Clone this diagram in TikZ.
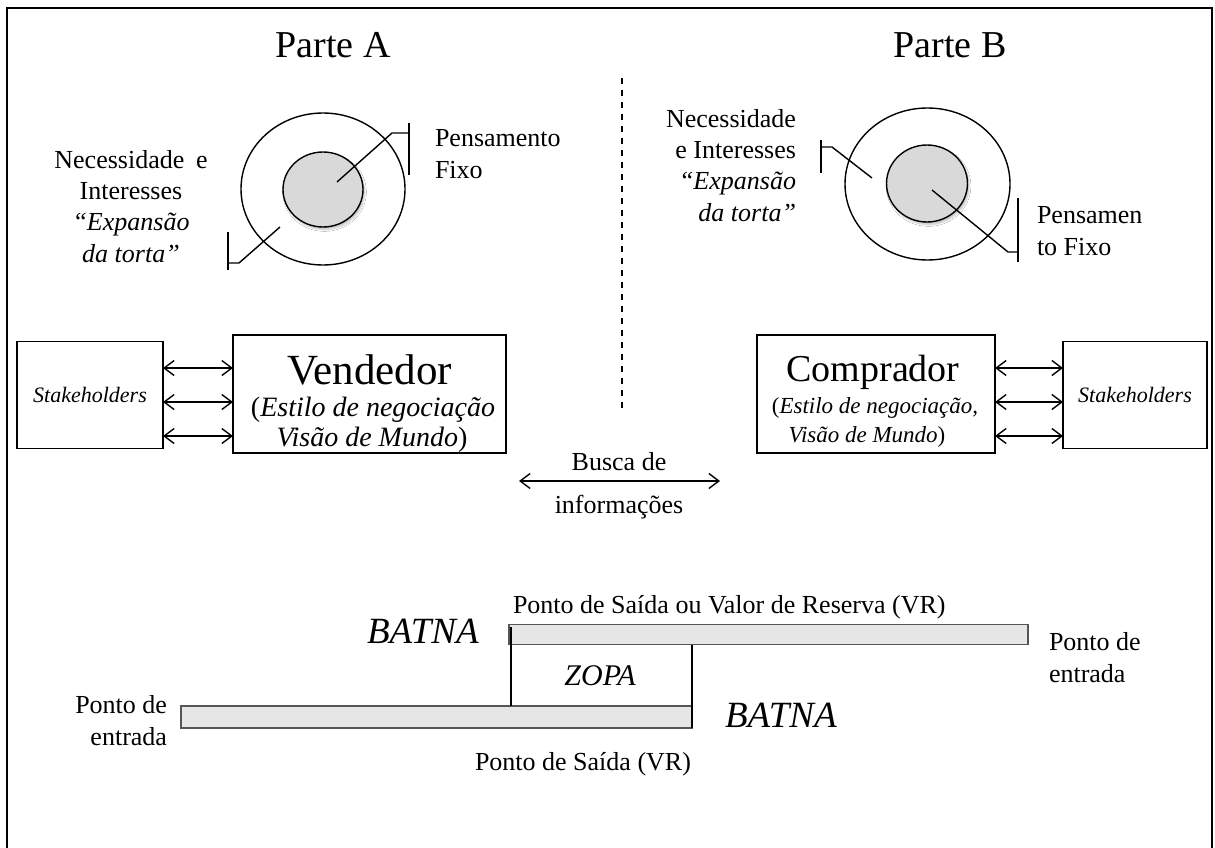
\documentclass[tikz,border=0pt]{standalone}
\usepackage{fontspec}
\setmainfont{Liberation Serif}
\usetikzlibrary{arrows.meta,shapes.geometric,shadows.blur}
\definecolor{corefill}{RGB}{217,217,217}
\definecolor{barfill}{RGB}{230,230,230}
\definecolor{bardraw}{RGB}{85,85,85}
\newcommand{\setfs}[2]{\fontsize{#1}{#2}\selectfont}
\begin{document}
\begin{tikzpicture}[x=1pt,y=-1pt,line width=1.4pt,
  every node/.style={inner sep=0pt,outer sep=0pt},
  body/.style={font=\setfs{26}{31.3}},
  title/.style={font=\setfs{38}{46}},
  ring/.style={draw,ellipse},
  core/.style={draw,ellipse,fill=corefill,
    blur shadow={shadow xshift=1.5pt,shadow yshift=-2.5pt,shadow blur steps=6,shadow opacity=25}},
  box/.style={draw,rectangle},
  stake/.style={draw,rectangle,minimum width=146pt,minimum height=107pt,font=\setfs{22}{26}\itshape},
  dbl/.style={{Straight Barb[length=10pt,width=15pt]}-{Straight Barb[length=10pt,width=15pt]}},
  bar/.style={draw=bardraw,fill=barfill,rectangle,line width=1.5pt},
  tick/.style={line width=1.8pt},
  dashline/.style={dash pattern=on 6pt off 6pt,line width=1.4pt},
  batna/.style={font=\setfs{37}{44}\itshape}]
\useasboundingbox (0,0) rectangle (1215,848);
\fill[white] (0,0) rectangle (1215,848);
% frame, open at the bottom
\draw[line width=1.8pt,line join=miter] (7,848) -- (7,8) -- (1212,8) -- (1212,848);

% headings
\node[title,anchor=base] (pA) at (333,58) {Parte A};
\node[title,anchor=base] (pB) at (950,58) {Parte B};

% separator
\coordinate (dTop) at (622,78);
\coordinate (dBot) at (622,410);
\draw[dashline] (dTop) -- (dBot);

% ---- party A rings (multi-line labels are placed by their last baseline)
\node[ring,minimum width=164pt,minimum height=152pt] (outA) at (323,189) {};
\node[core,minimum width=80pt,minimum height=75pt] (inA) at (323,189.5) {};
\coordinate (fA0) at (337,182);
\coordinate (fA1) at (392,133);
\coordinate (fA2) at (409,133);
\coordinate (fAt) at (409,123);
\coordinate (fAb) at (409,175);
\draw (fA0) -- (fA1) -- (fA2);
\draw[tick] (fAt) -- (fAb);
\coordinate (nA0) at (280,227);
\coordinate (nA1) at (239,263);
\coordinate (nA2) at (228,263);
\coordinate (nAt) at (228,232);
\coordinate (nAb) at (228,270);
\draw (nA0) -- (nA1) -- (nA2);
\draw[tick] (nAt) -- (nAb);
\node[body,anchor=base west,align=left] (pensA) at (435,178) {Pensamento\\Fixo};
\node[body,anchor=base,align=center] (necA) at (131,262)
  {Necessidade\hspace{0.45em}e\\Interesses\\\textit{“Expansão}\\\textit{da torta”}};

% ---- party B rings
\node[ring,minimum width=165pt,minimum height=152pt] (outB) at (927.5,184) {};
\node[core,minimum width=81pt,minimum height=77pt] (inB) at (927,183.5) {};
\coordinate (nB0) at (872,178);
\coordinate (nB1) at (832,147);
\coordinate (nB2) at (821,147);
\coordinate (nBt) at (821,140);
\coordinate (nBb) at (821,173);
\draw (nB0) -- (nB1) -- (nB2);
\draw[tick] (nBt) -- (nBb);
\coordinate (fB0) at (932,190);
\coordinate (fB1) at (1008,252);
\coordinate (fB2) at (1018,252);
\coordinate (fBt) at (1018,198);
\coordinate (fBb) at (1018,262);
\draw (fB0) -- (fB1) -- (fB2);
\draw[tick] (fBt) -- (fBb);
\node[body,anchor=base east,align=right] (necB) at (796,221)
  {Necessidade\\e Interesses\\\textit{“Expansão}\\\textit{da torta”}};
\node[body,anchor=base west,align=left] (pensB) at (1037,255) {Pensamen\\to Fixo};

% ---- negotiators and stakeholders
\node[stake] (stA) at (90,395) {Stakeholders};
\node[box,minimum width=273pt,minimum height=118pt] (vend) at (369.5,394) {};
\node[font=\setfs{43}{50},anchor=base] (vendT) at (369.5,384) {Vendedor};
\node[font=\setfs{28}{31},anchor=base] (vendS1) at (373,416) {(\textit{Estilo de negociação}};
\node[font=\setfs{28}{31},anchor=base] (vendS2) at (372,446) {\textit{Visão de Mundo})};

\node[box,minimum width=238pt,minimum height=118pt] (comp) at (876,394) {};
\node[font=\setfs{38}{45},anchor=base] (compT) at (873,381) {Comprador};
\node[font=\setfs{23}{28},anchor=base] (compS1) at (875,413) {(\textit{Estilo de negociação,}};
\node[font=\setfs{23}{28},anchor=base] (compS2) at (867,442) {\textit{Visão de Mundo})};
\node[stake,minimum width=144pt] (stB) at (1135,395) {Stakeholders};

\foreach \yy in {368,402,436}{
  \draw[dbl] (stA.east |- 0,\yy) -- (vend.west |- 0,\yy);
  \draw[dbl] (comp.east |- 0,\yy) -- (stB.west |- 0,\yy);
}

% ---- information search
\node[body,anchor=base] (busca) at (619,470) {Busca de};
\node[body,anchor=base] (info) at (619,513) {informações};
\coordinate (bL) at (519,481);
\coordinate (bR) at (720,481);
\draw[dbl] (bL) -- (bR);

% ---- bargaining ranges
\node[bar,minimum width=519pt,minimum height=20pt] (ub) at (768.5,634.5) {};
\node[bar,minimum width=511pt,minimum height=22pt] (lb) at (436.5,717) {};
\coordinate (z1) at (511,627);
\draw (z1) -- (z1 |- lb.north);
\draw (lb.north east |- ub.south) -- (lb.south east);
\node[font=\setfs{30}{36}\itshape] (zopa) at (600,676) {ZOPA};
\node[batna,anchor=base west] (batnaA) at (367,643) {BATNA};
\node[batna,anchor=base west] (batnaB) at (725,727) {BATNA};
\node[body,anchor=base west] (vrA) at (513,613) {Ponto de Saída ou Valor de Reserva (VR)};
\node[body,anchor=base west] (vrB) at (475,770) {Ponto de Saída (VR)};
\node[body,anchor=base west,align=left] (entB) at (1049,682) {Ponto de\\entrada};
\node[body,anchor=base east,align=right] (entA) at (167,745) {Ponto de\\entrada};
\end{tikzpicture}
\end{document}
